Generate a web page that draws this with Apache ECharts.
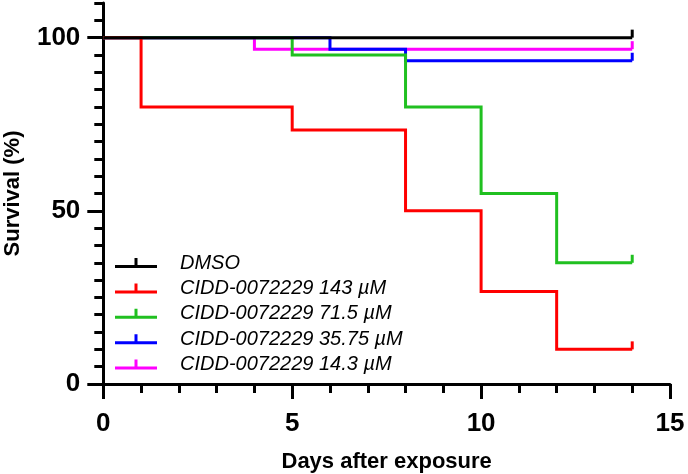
<!DOCTYPE html>
<html>
<head>
<meta charset="utf-8">
<script src="https://cdn.jsdelivr.net/npm/echarts@6/dist/echarts.min.js"></script>
<style>html,body{margin:0;padding:0;background:#fff}#c{width:688px;height:474px}</style>
</head>
<body>
<div id="c"></div>
<script>
const seriesNames = ['DMSO', 'CIDD-0072229 143 µM', 'CIDD-0072229 71.5 µM', 'CIDD-0072229 35.75 µM', 'CIDD-0072229 14.3 µM'];
const seriesColors = ['#000000', '#ff0000', '#20c020', '#0000ff', '#ff00ff'];
const dmsoDays = [0, 14];
const dmsoSurv = [100, 100];
const d143Days = [0, 1, 5, 8, 10, 12, 14];
const d143Surv = [100, 80, 73.33, 50, 26.67, 10, 10];
const d715Days = [0, 5, 8, 10, 12, 14];
const d715Surv = [100, 95, 80, 55, 35, 35];
const d3575Days = [0, 6, 8, 14];
const d3575Surv = [100, 96.67, 93.33, 93.33];
const d143lowDays = [0, 4, 14];
const d143lowSurv = [100, 96.67, 96.67];
const xTickLabels = [0, 5, 10, 15];
const yTickLabels = [0, 50, 100];

const allDays = [dmsoDays, d143Days, d715Days, d3575Days, d143lowDays];
const allSurv = [dmsoSurv, d143Surv, d715Surv, d3575Surv, d143lowSurv];

const FONT = 'Liberation Sans, Arial, sans-serif';

function buildData(days, surv) {
  return days.map((d, i) => {
    if (i === days.length - 1) {
      return { value: [d, surv[i]], symbol: 'rect', symbolSize: [3, 8], symbolOffset: [0, -4] };
    }
    return { value: [d, surv[i]] };
  });
}

const series = seriesNames.map((name, k) => ({
  name: name,
  type: 'line',
  step: 'end',
  xAxisIndex: 0,
  yAxisIndex: 0,
  symbol: 'none',
  showSymbol: true,
  showAllSymbol: true,
  z: 10 - k,
  color: seriesColors[k],
  lineStyle: { width: 3, color: seriesColors[k], cap: 'butt', join: 'miter' },
  itemStyle: { color: seriesColors[k], borderWidth: 0 },
  emphasis: { disabled: true },
  data: buildData(allDays[k], allSurv[k])
}));

const chart = echarts.init(document.getElementById('c'), null, { renderer: 'canvas' });
chart.setOption({
  animation: false,
  backgroundColor: '#fff',
  grid: { left: 103.3, right: 18, top: 3, bottom: 90, containLabel: false, outerBoundsMode: 'none' },
  legend: {
    orient: 'vertical',
    left: 115,
    top: 253,
    padding: 0,
    itemGap: 5.4,
    itemWidth: 42,
    itemHeight: 10,
    icon: 'path://M0,7L42,7L42,10L0,10Z M19.5,0L22.5,0L22.5,7L19.5,7Z',
    itemStyle: { borderWidth: 0 },
    data: seriesNames,
    selectedMode: false,
    textStyle: { fontFamily: FONT, fontSize: 20, fontStyle: 'italic', color: '#000', lineHeight: 20, padding: [0, 0, 0, 18] }
  },
  xAxis: [
    {
      type: 'value', min: 0, max: 15, interval: 1,
      axisLine: { show: true, onZero: false, lineStyle: { color: '#000', width: 3 } },
      axisTick: { show: true, length: 9, lineStyle: { color: '#000', width: 3 } },
      axisLabel: { show: false },
      splitLine: { show: false }
    },
    {
      type: 'value', min: 0, max: 15, interval: 5, position: 'bottom',
      axisLine: { show: false, onZero: false },
      axisTick: { show: true, length: 15, lineStyle: { color: '#000', width: 3 } },
      axisLabel: { show: true, margin: 27, fontFamily: FONT, fontSize: 26, fontWeight: 'bold', color: '#000',
        formatter: v => (xTickLabels.indexOf(v) >= 0 ? String(v) : '') },
      splitLine: { show: false },
      name: 'Days after exposure', nameLocation: 'middle', nameGap: 67,
      nameTextStyle: { fontFamily: FONT, fontSize: 22, fontWeight: 'bold', color: '#000' }
    }
  ],
  yAxis: [
    {
      type: 'value', min: 0, max: 110, interval: 5,
      axisLine: { show: true, onZero: false, lineStyle: { color: '#000', width: 3 } },
      axisTick: { show: true, length: 9, lineStyle: { color: '#000', width: 3 } },
      axisLabel: { show: false },
      splitLine: { show: false }
    },
    {
      type: 'value', min: 0, max: 110, position: 'left',
      axisLine: { show: false, onZero: false },
      axisTick: { show: true, length: 16, customValues: yTickLabels, lineStyle: { color: '#000', width: 3 } },
      axisLabel: { show: true, margin: 23, customValues: yTickLabels, fontFamily: FONT, fontSize: 26, fontWeight: 'bold', color: '#000' },
      splitLine: { show: false },
      name: 'Survival (%)', nameLocation: 'middle', nameGap: 79, nameRotate: 90,
      nameTextStyle: { fontFamily: FONT, fontSize: 22, fontWeight: 'bold', color: '#000' }
    }
  ],
  series: series
});
</script>
</body>
</html>
